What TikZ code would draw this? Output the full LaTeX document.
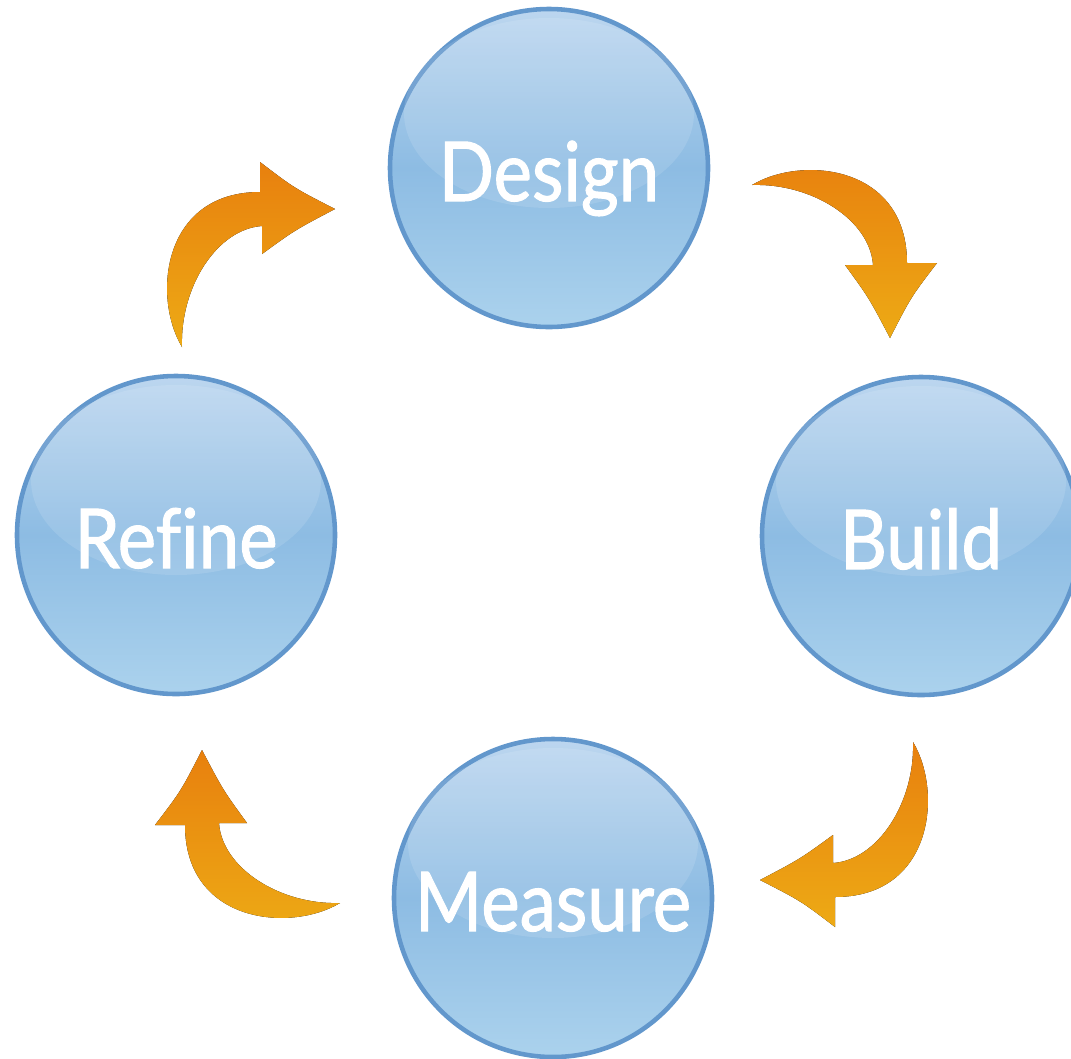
\documentclass[tikz,border=0pt]{standalone}
\usepackage{fontspec}
\newfontfamily\bullefont{Lato}[FakeStretch=0.88,FakeBold=1.2,Ligatures=NoCommon]
\definecolor{bleuhaut}{HTML}{BCD6EF}
\definecolor{bleumilieu}{HTML}{8DBCE3}
\definecolor{bleubas}{HTML}{ABD2ED}
\definecolor{bleubord}{HTML}{6297CC}
\definecolor{orangehaut}{HTML}{E8800E}
\definecolor{orangebas}{HTML}{EDAA15}

\begin{document}
\begin{tikzpicture}
\tikzstyle{fleche}=[top color=orangehaut,bottom color=orangebas]
\tikzset{bulle/.style={circle,draw=bleubord,line width=1.3pt,minimum size=3.18cm,inner sep=0pt,
top color=bleuhaut,bottom color=bleubas,middle color=bleumilieu,
text=white,font=\bullefont\fontsize{23.5}{28}\selectfont,text height=0.66cm,text depth=0pt},
pics/boucle/.style={code={
\fill[fleche] (0,0) .. controls (0.5,0.3) and (1.55,0.2) .. (1.55,-0.78)
  -- (1.85,-0.78) .. controls (1.59,-1.12) .. (1.38,-1.53)
  .. controls (1.17,-1.13) .. (0.93,-0.80) -- (1.21,-0.80)
  .. controls (1.18,-0.35) and (0.6,0.02) .. cycle;
}}}
\useasboundingbox (0,0) rectangle (10.71,10.58);

\node[bulle] (D) at (5.49,8.90) {Design};
\node[bulle] (B) at (9.21,5.22) {Build};
\node[bulle] (M) at (5.53,1.60) {Measure};
\node[bulle] (R) at (1.76,5.23) {Refine};

% reflets
\foreach \n in {D,B,M,R}
  \fill[white,opacity=0.12] ([yshift=0.55cm]\n.center) ellipse (1.45 and 0.95);

\coordinate (DB) at (7.52,8.73);
\coordinate (BM) at (9.13,3.16);
\coordinate (MR) at (3.40,1.55);
\coordinate (RD) at (1.82,7.11);

\pic at (DB) {boucle};
\pic[rotate=-90] at (BM) {boucle};
\pic[rotate=180] at (MR) {boucle};
\pic[rotate=90] at (RD) {boucle};

\end{tikzpicture}
\end{document}
